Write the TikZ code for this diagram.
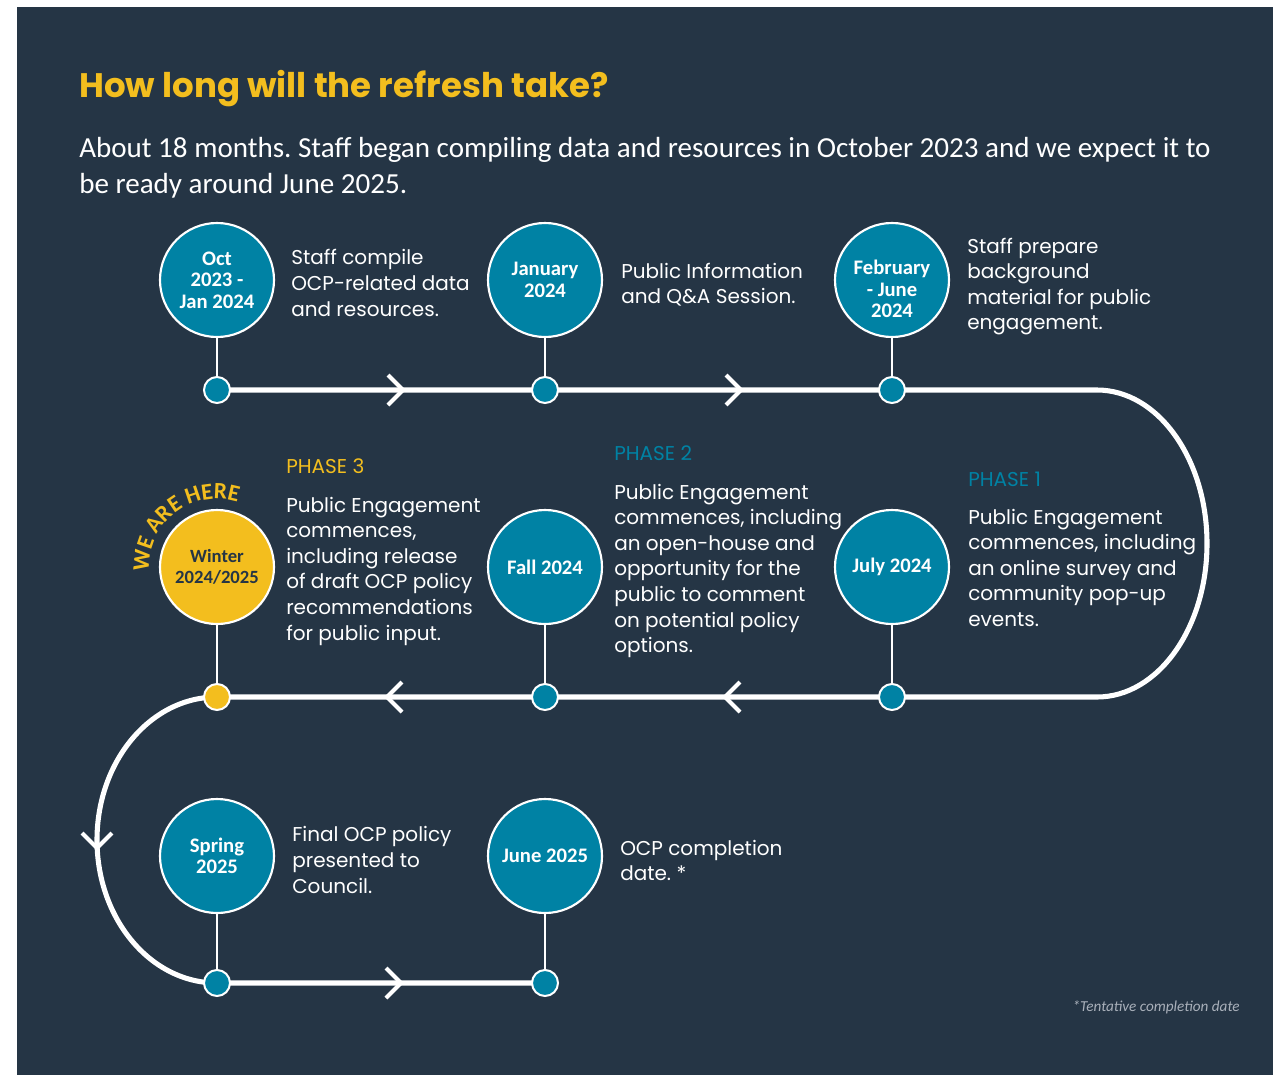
\documentclass[tikz,border=0pt]{standalone}
\usepackage{fontspec}
\setmainfont{Poppins}
\newfontfamily\calib{Carlito}
\usetikzlibrary{decorations.text}
\definecolor{panel}{HTML}{253545}
\definecolor{tealc}{HTML}{0082A4}
\definecolor{sun}{HTML}{F3BE1E}
\definecolor{note}{HTML}{A9B0BA}
\frenchspacing

\begin{document}
\begin{tikzpicture}[x=0.75pt,y=-0.75pt,
  event/.style={circle, fill=tealc, draw=white, line width=1.6pt, minimum size=85.5pt,
    inner sep=0pt, align=center, text=white, font=\calib\bfseries\fontsize{15.5}{16}\selectfont},
  dot/.style={circle, fill=tealc, draw=white, line width=1.5pt, minimum size=19.5pt, inner sep=0pt},
  track/.style={draw=white, line width=3.8pt},
  stem/.style={draw=white, line width=1.4pt},
  chevline/.style={draw=white, line width=3pt},
  body/.style={anchor=base west, align=left, inner sep=0pt, text=white,
    font=\fontsize{15}{19.2}\selectfont},
  phase/.style={anchor=base west, inner sep=0pt, font=\fontsize{15}{18}\selectfont},
  chevron/.pic={\draw[chevline] (-15,-15) -- (0,0) -- (-15,15);}
]
% page and panel
\useasboundingbox (0,0) rectangle (1278,1075);
\fill[white] (0,0) rectangle (1278,1075);
\fill[panel] (17,7) rectangle (1273,1075);

% heading (multi-line nodes are anchored at the baseline of their last line)
\node[anchor=base west, inner sep=0pt, text=sun, font=\bfseries\fontsize{25.5}{30}\selectfont]
  (title) at (79,97) {How long will the refresh take?};
\node[anchor=base west, align=left, inner sep=0pt, text=white, font=\calib\fontsize{21.8}{27}\selectfont]
  (intro) at (79,193) {About 18 months. Staff began compiling data and resources in October 2023 and we expect it to\\be ready around June 2025.};

% track positions
\coordinate (p1) at (217,390);
\coordinate (p2) at (545,390);
\coordinate (p3) at (892,390);
\coordinate (bendR) at (1097,390);
\coordinate (q3) at (892,697);
\coordinate (q2) at (545,697);
\coordinate (q1) at (217,697);
\coordinate (s1) at (217,983);
\coordinate (s2) at (545,983);

% the winding track
\draw[track] (p1) -- (p3) -- (bendR)
  arc[start angle=-90, end angle=90, x radius=110, y radius=153.5]
  -- (q1)
  arc[start angle=-90, end angle=-270, x radius=120, y radius=143]
  -- (s2);

% direction marks
\pic at (403,390) {chevron};
\pic at (741,390) {chevron};
\pic[rotate=180] at (387,697) {chevron};
\pic[rotate=180] at (725,697) {chevron};
\pic[rotate=-90] at (97,848) {chevron};
\pic at (401,983) {chevron};

% milestones
\node[event] (e1) at (217,280) {Oct\\2023 -\\Jan 2024};
\node[event] (e2) at (545,280) {January\\2024};
\node[event] (e3) at (892,280) {};
\node[align=center, inner sep=0pt, text=white, font=\calib\bfseries\fontsize{15.5}{16}\selectfont]
  (e3txt) at (892,289) {February\\- June\\2024};
\node[event] (e4) at (892,567) {July 2024};
\node[event] (e5) at (545,567) {Fall 2024};
\node[event, fill=sun, text=panel, font=\calib\bfseries\fontsize{14}{15.75}\selectfont]
  (e6) at (217,567) {Winter\\2024/2025};
\node[event] (e7) at (217,856) {Spring\\2025};
\node[event] (e8) at (545,856) {June 2025};

% dots on the track
\node[dot] (d1) at (p1) {};
\node[dot] (d2) at (p2) {};
\node[dot] (d3) at (p3) {};
\node[dot] (d4) at (q3) {};
\node[dot] (d5) at (q2) {};
\node[dot, fill=sun] (d6) at (q1) {};
\node[dot] (d7) at (s1) {};
\node[dot] (d8) at (s2) {};

% stems
\foreach \i in {1,...,8} \draw[stem] (e\i) -- (d\i);

% current position marker
\path[decorate, decoration={text along path, text align=center,
  text={|\calib\bfseries\fontsize{17.5}{18}\selectfont\color{sun}|WE ARE HERE}}]
  (217,567) ++(155:68) arc[start angle=155, end angle=309, radius=68];

% descriptions
\node[body] (t1) at (291,316) {Staff compile\\OCP-related data\\and resources.};
\node[body] (t2) at (621,303.6) {Public Information\\and Q\&A Session.};
\node[body] (t3) at (967,329.8) {Staff prepare\\background\\material for public\\engagement.};

\node[phase, text=sun] (ph3) at (286,473) {PHASE 3};
\node[body] (t6) at (286,640) {Public Engagement\\commences,\\including release\\of draft OCP policy\\recommendations\\for public input.};

\node[phase, text=tealc] (ph2) at (614,460) {PHASE 2};
\node[body] (t5) at (614,652.6) {Public Engagement\\commences, including\\an open-house and\\opportunity for the\\public to comment\\on potential policy\\options.};

\node[phase, text=tealc] (ph1) at (968,486) {PHASE 1};
\node[body] (t4) at (968,626.4) {Public Engagement\\commences, including\\an online survey and\\community pop-up\\events.};

\node[body] (t7) at (292,893) {Final OCP policy\\presented to\\Council.};
\node[body] (t8) at (620,880.6) {OCP completion\\date. *};

\node[anchor=base east, inner sep=0pt, text=note, font=\calib\itshape\fontsize{11.4}{13}\selectfont]
  (foot) at (1240,1011) {*Tentative completion date};
\end{tikzpicture}
\end{document}
